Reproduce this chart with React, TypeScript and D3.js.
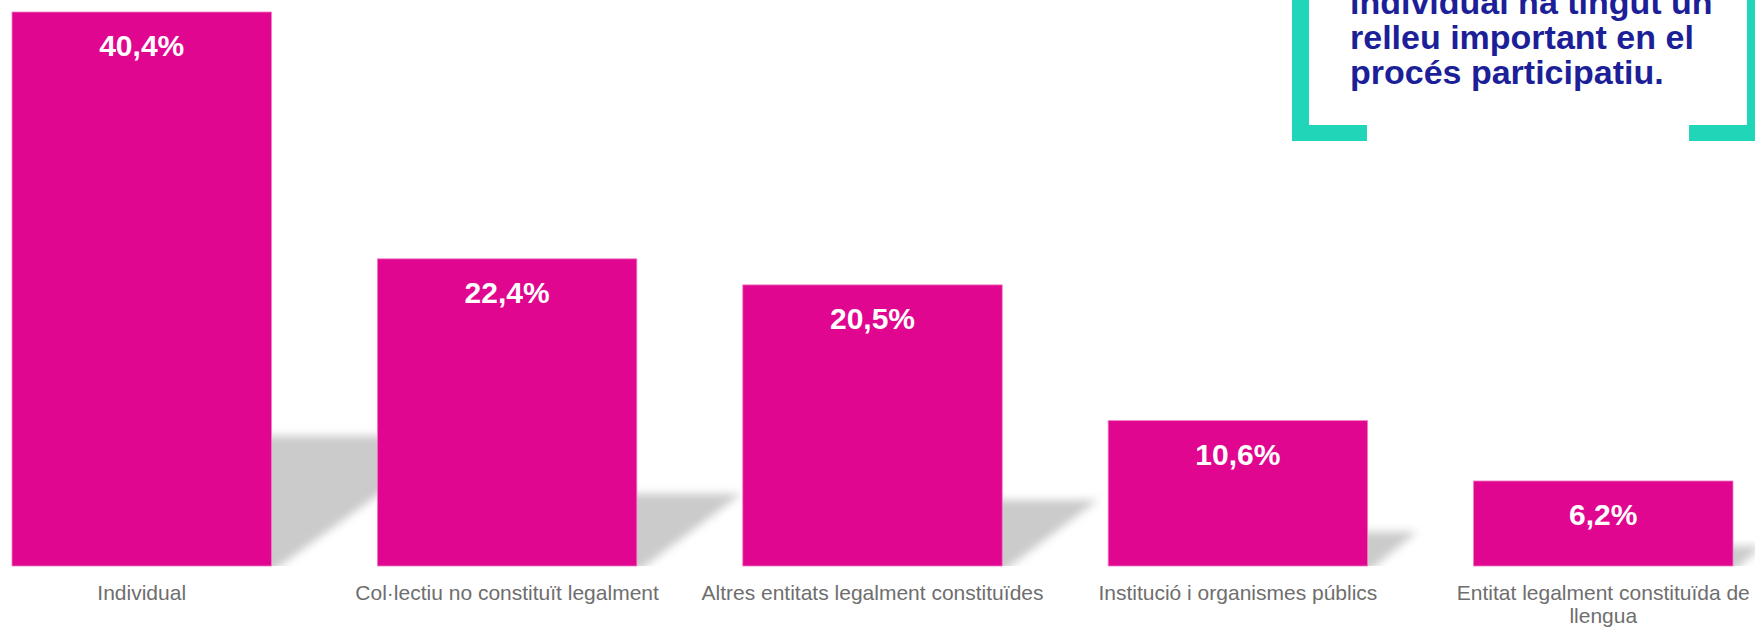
import * as d3 from "d3";
import { useEffect, useRef } from "react";

const categories = [
  "Individual",
  "Col·lectiu no constituït legalment",
  "Altres entitats legalment constituïdes",
  "Institució i organismes públics",
  "Entitat legalment constituïda de llengua",
];
const values = [40.4, 22.4, 20.5, 10.6, 6.2];
const calloutLines = [
  "individual ha tingut un",
  "relleu important en el",
  "procés participatiu.",
];

const W = 1755;
const H = 627;
const PINK = "#e0068f";
const TEAL = "#21d6b8";
const NAVY = "#1c1f98";
const FONT = "'Liberation Sans', Arial, Helvetica, sans-serif";

const fmt = (v: number) => d3.format(".1f")(v).replace(".", ",") + "%";

export default function App() {
  const ref = useRef<SVGSVGElement>(null);

  useEffect(() => {
    if (!ref.current) return;
    const svg = d3.select(ref.current);
    svg.selectAll("*").remove();

    const x = d3
      .scaleBand()
      .domain(categories)
      .range([12, 1733])
      .paddingInner(0.29)
      .paddingOuter(0);
    const y = d3.scaleLinear().domain([0, 40.4]).range([566, 12]);
    const base = y(0);

    const defs = svg.append("defs");
    defs
      .append("filter")
      .attr("id", "shadowBlur")
      .attr("x", "-20%")
      .attr("y", "-20%")
      .attr("width", "140%")
      .attr("height", "140%")
      .append("feGaussianBlur")
      .attr("stdDeviation", 4);
    defs
      .append("clipPath")
      .attr("id", "aboveBase")
      .append("rect")
      .attr("x", 0)
      .attr("y", 0)
      .attr("width", W)
      .attr("height", base);

    // sombres
    svg
      .append("g")
      .attr("clip-path", "url(#aboveBase)")
      .selectAll("polygon")
      .data(categories)
      .enter()
      .append("polygon")
      .attr("points", (c, i) => {
        const x0 = x(c)!;
        const x1 = x0 + x.bandwidth();
        const h = base - y(values[i]);
        const s = 0.235 * h;
        const d = 1.45 * s;
        return [
          [x0, base + 6],
          [x1, base + 6],
          [x1 + d, base - s],
          [x0 + d, base - s],
        ]
          .map((p) => p.join(","))
          .join(" ");
      })
      .attr("fill", "#cbcbcb")
      .attr("filter", "url(#shadowBlur)");

    // barres
    svg
      .append("g")
      .selectAll("rect")
      .data(categories)
      .enter()
      .append("rect")
      .attr("x", (c) => x(c)!)
      .attr("y", (c, i) => y(values[i]))
      .attr("width", x.bandwidth())
      .attr("height", (c, i) => base - y(values[i]))
      .attr("fill", PINK)
      .attr("stroke", "#f27cc4")
      .attr("stroke-width", 0.8);

    // valors
    svg
      .append("g")
      .selectAll("text")
      .data(categories)
      .enter()
      .append("text")
      .attr("x", (c) => x(c)! + x.bandwidth() / 2)
      .attr("y", (c, i) => y(values[i]) + 44)
      .attr("text-anchor", "middle")
      .attr("fill", "#fff")
      .attr("font-family", FONT)
      .attr("font-weight", "bold")
      .attr("font-size", 30)
      .text((c, i) => fmt(values[i]));

    // etiquetes de categoria
    const labels = svg
      .append("g")
      .selectAll("text")
      .data(categories)
      .enter()
      .append("text")
      .attr("x", (c) => x(c)! + x.bandwidth() / 2)
      .attr("y", base + 34)
      .attr("text-anchor", "middle")
      .attr("fill", "#6e6e6e")
      .attr("font-family", FONT)
      .attr("font-size", 21);

    const maxW = x.step() - 5;
    labels.each(function (c) {
      const text = d3.select(this);
      const cx = text.attr("x");
      const words = String(c).split(" ");
      let line: string[] = [];
      let tspan = text.append("tspan").attr("x", cx).attr("dy", 0);
      for (const w of words) {
        line.push(w);
        tspan.text(line.join(" "));
        if ((tspan.node() as SVGTSpanElement).getComputedTextLength() > maxW && line.length > 1) {
          line.pop();
          tspan.text(line.join(" "));
          line = [w];
          tspan = text.append("tspan").attr("x", cx).attr("dy", 23).text(w);
        }
      }
    });

    // requadre destacat
    const box = svg.append("g");
    const bx0 = 1292;
    const bx1 = 1764;
    const th = 17;
    const bottom = 141;
    box.append("rect").attr("x", bx0).attr("y", -10).attr("width", th).attr("height", bottom + 10).attr("fill", TEAL);
    box.append("rect").attr("x", bx0).attr("y", bottom - 16).attr("width", 75).attr("height", 16).attr("fill", TEAL);
    box.append("rect").attr("x", bx1 - th).attr("y", -10).attr("width", th).attr("height", bottom + 10).attr("fill", TEAL);
    box.append("rect").attr("x", bx1 - 75).attr("y", bottom - 16).attr("width", 75).attr("height", 16).attr("fill", TEAL);

    box
      .append("g")
      .selectAll("text")
      .data(calloutLines)
      .enter()
      .append("text")
      .attr("x", 1350)
      .attr("y", (d, i) => 14 + i * 35)
      .attr("fill", NAVY)
      .attr("font-family", FONT)
      .attr("font-weight", "bold")
      .attr("font-size", 34)
      .text((d) => d);
  }, []);

  return (
    <svg
      ref={ref}
      width={W}
      height={H}
      style={{ position: "absolute", left: 0, top: 0, display: "block", background: "#fff" }}
    ></svg>
  );
}
